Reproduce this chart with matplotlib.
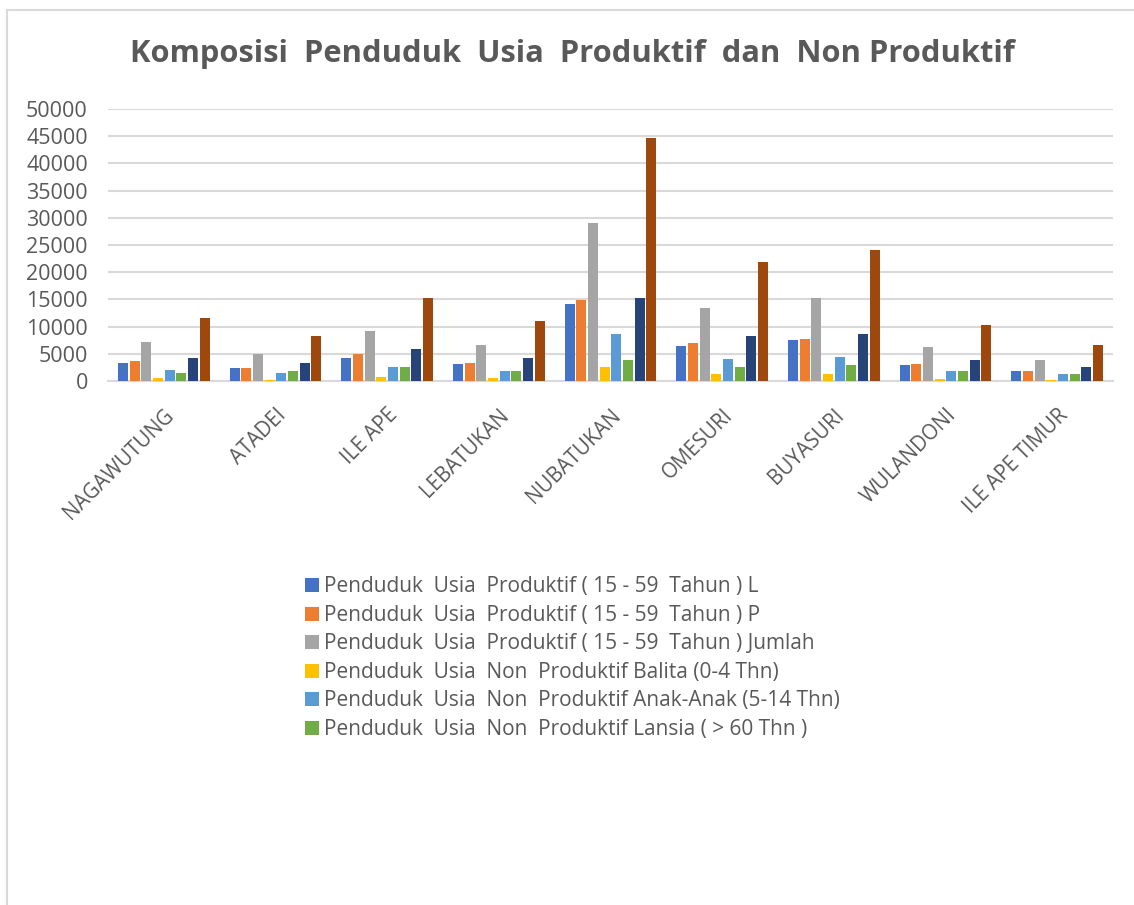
import matplotlib
matplotlib.use("Agg")
import matplotlib.pyplot as plt
import numpy as np
from matplotlib.lines import Line2D

plt.rcParams['font.family'] = ['Open Sans', 'DejaVu Sans']

categories = ["NAGAWUTUNG", "ATADEI", "ILE APE", "LEBATUKAN", "NUBATUKAN",
              "OMESURI", "BUYASURI", "WULANDONI", "ILE APE TIMUR"]

prod_L = [3400, 2450, 4300, 3200, 14200, 6500, 7450, 3000, 1900]
prod_P = [3600, 2450, 4900, 3400, 14800, 6900, 7650, 3200, 1900]
prod_jumlah = [7100, 5000, 9200, 6700, 29100, 13500, 15200, 6200, 3950]
balita = [600, 250, 800, 600, 2650, 1350, 1350, 450, 250]
anak = [2100, 1400, 2500, 1900, 8700, 4100, 4500, 1750, 1200]
lansia = [1550, 1750, 2500, 1750, 3900, 2650, 3000, 1750, 1200]
nonprod_jumlah = [4300, 3250, 5800, 4200, 15300, 8200, 8700, 3950, 2650]
total = [11500, 8300, 15300, 11000, 44600, 21800, 24000, 10250, 6550]

series = [prod_L, prod_P, prod_jumlah, balita, anak, lansia, nonprod_jumlah, total]
labels = ["Penduduk  Usia  Produktif ( 15 - 59  Tahun ) L",
          "Penduduk  Usia  Produktif ( 15 - 59  Tahun ) P",
          "Penduduk  Usia  Produktif ( 15 - 59  Tahun ) Jumlah",
          "Penduduk  Usia  Non  Produktif Balita (0-4 Thn)",
          "Penduduk  Usia  Non  Produktif Anak-Anak (5-14 Thn)",
          "Penduduk  Usia  Non  Produktif Lansia ( > 60 Thn )",
          None, None]
colors = ["#4472C4", "#ED7D31", "#A5A5A5", "#FFC000", "#5B9BD5", "#70AD47",
          "#264478", "#9E480E"]

yticks = [0, 5000, 10000, 15000, 20000, 25000, 30000, 35000, 40000, 45000, 50000]

W, H = 1134, 905
fig = plt.figure(figsize=(W / 100, H / 100), dpi=100)

# chart border (top and left visible)
fig.add_artist(Line2D([7 / W, 7 / W], [0, 1 - 10 / H], transform=fig.transFigure,
                      color="#d9d9d9", lw=1.5))
fig.add_artist(Line2D([7 / W, 1], [1 - 10 / H, 1 - 10 / H], transform=fig.transFigure,
                      color="#d9d9d9", lw=1.5))

left, right = 108 / W, 1113 / W
bottom, top = 1 - 381 / H, 1 - 109 / H
ax = fig.add_axes([left, bottom, right - left, top - bottom])

n = len(series)
x = np.arange(len(categories))
group = 0.835
slot = group / n
bw = slot * 0.86
for i, (vals, col, lab) in enumerate(zip(series, colors, labels)):
    offs = -group / 2 + slot * (i + 0.5)
    ax.bar(x + offs, vals, width=bw, color=col, label=lab if lab else "_nolegend_", zorder=3)

ax.set_xlim(-0.5, len(categories) - 0.5)
ax.set_ylim(0, 50000)
ax.set_yticks(yticks)
ax.set_yticklabels([str(v) for v in yticks])
ax.yaxis.grid(True, color="#d9d9d9", lw=1.5, zorder=0)
ax.set_axisbelow(True)
for s in ["top", "right", "left"]:
    ax.spines[s].set_visible(False)
ax.spines["bottom"].set_color("#d9d9d9")
ax.spines["bottom"].set_linewidth(1.5)
ax.tick_params(axis="y", length=0, pad=14.5, labelsize=15.5, labelcolor="#595959")
ax.tick_params(axis="x", length=0, pad=17, labelsize=14.8, labelcolor="#595959")
ax.set_xticks(x)
ax.set_xticklabels(categories, rotation=45, ha="right", rotation_mode="anchor")

fig.text(572 / W, 1 - 54 / H, "Komposisi  Penduduk  Usia  Produktif  dan  Non Produktif",
         ha="center", va="center", fontsize=22.2, fontweight="bold", color="#595959")

handles, labs = ax.get_legend_handles_labels()
fig.legend(handles, labs, loc="upper left", bbox_to_anchor=(295 / W, 1 - 566 / H),
           frameon=False, fontsize=15, labelcolor="#595959",
           handlelength=0.65, handleheight=0.65, handletextpad=0.25, labelspacing=0.36,
           borderpad=0)

fig.savefig("out.png", dpi=100)
